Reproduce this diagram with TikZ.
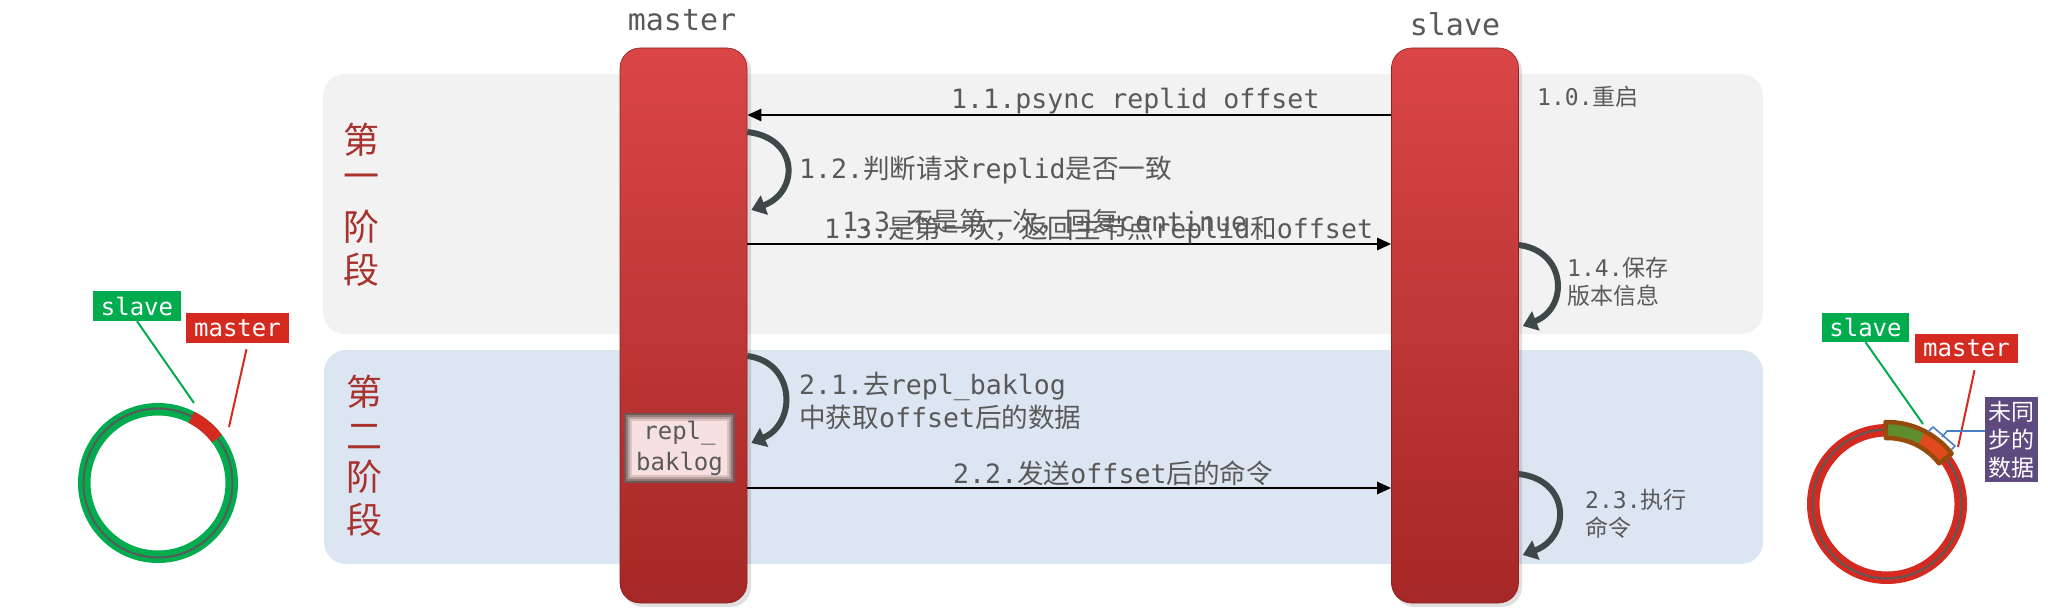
\documentclass[tikz,border=0pt]{standalone}
\usepackage{fontspec}
\setmainfont{DejaVu Sans Mono}
\newfontfamily\cjk{Noto Sans CJK SC}
\usetikzlibrary{arrows.meta,calc}
\definecolor{txtgray}{HTML}{595959}
\definecolor{phasered}{HTML}{A8322D}
\definecolor{panelA}{HTML}{F2F2F2}
\definecolor{panelB}{HTML}{DCE6F2}
\definecolor{bartop}{HTML}{DA4646}
\definecolor{barbot}{HTML}{A62727}
\definecolor{loopgray}{HTML}{3E4848}
\definecolor{ringgreen}{HTML}{00AC4E}
\definecolor{ringred}{HTML}{D42A1F}
\definecolor{ringgray}{HTML}{5A5A5A}
\definecolor{segbrown}{HTML}{964B0C}
\definecolor{segolive}{HTML}{5E8C2E}
\definecolor{segorange}{HTML}{E04A1C}
\definecolor{bracketblue}{HTML}{4A7EC4}
\definecolor{purplebox}{HTML}{5E4A7E}
\definecolor{pinkbox}{HTML}{F6E0E0}
\definecolor{edgeA}{HTML}{6E5858}
\definecolor{edgeB}{HTML}{957A7A}
\definecolor{edgeC}{HTML}{BBA0A0}
\definecolor{edgeD}{HTML}{DCC4C4}
\newcommand\fsz[2]{\fontsize{#1}{#2}\selectfont}
\begin{document}
\begin{tikzpicture}[x=1pt,y=-1pt,
  lbl/.style={inner sep=0pt, anchor=west, text=txtgray, font=\fsz{26.6}{33}, align=left},
  small/.style={lbl, font=\fsz{23}{28}},
  bar/.style={minimum width=127pt, minimum height=555pt, rounded corners=20pt, top color=bartop, bottom color=barbot, draw=barbot!85!black, line width=0.6pt, inner sep=0pt},
  msg/.style={line width=2.5pt, -{Triangle[width=12pt,length=14pt]}},
  selfloop/.style={loopgray, line width=6pt, -{Triangle[width=20pt,length=14pt]}},
  phase/.style={text=phasered, font=\cjk\fsz{36}{43}, inner sep=0pt},
  tag/.style={inner sep=0pt, text=white, font=\fsz{24}{28}},
  softbox/.style={inner sep=0pt, minimum width=#1},
]
\useasboundingbox (0,0) rectangle (2048,615);
% panels
\fill[panelA, rounded corners=22pt] (323,74) rectangle (1763,334);
\fill[panelB, rounded corners=22pt] (324,350) rectangle (1763,564);
% phase labels
\node[phase] (p1a) at (361,140) {第};
\node[phase] (p1b) at (361,182) {一};
\node[phase] (p1c) at (361,227) {阶};
\node[phase] (p1d) at (361,270) {段};
\node[phase] (p2a) at (364,392) {第};
\node[phase] (p2b) at (364,437) {二};
\node[phase] (p2c) at (364,477) {阶};
\node[phase] (p2d) at (364,520) {段};
% bar shadows
\fill[black, opacity=0.12, rounded corners=20pt] (623,51) rectangle (751,607);
\fill[black, opacity=0.12, rounded corners=20pt] (1395,51) rectangle (1522,607);
% bars
\node[bar] (master) at (683.5,325.5) {};
\node[bar] (slave) at (1455,325.5) {};
\node[lbl, anchor=center, font=\fsz{30}{36}] (mlabel) at (682,20) {master};
\node[lbl, anchor=center, font=\fsz{30}{36}] (slabel) at (1455,24) {slave};
% repl_baklog box (soft edges)
\node[fill=edgeA, inner sep=0pt, minimum width=111pt, minimum height=70pt] (rbbox) at (679.5,448) {};
\node[fill=edgeB, inner sep=0pt, minimum width=107pt, minimum height=66pt] (rbb1) at (rbbox.center) {};
\node[fill=edgeC, inner sep=0pt, minimum width=103pt, minimum height=62pt] (rbb2) at (rbbox.center) {};
\node[fill=edgeD, inner sep=0pt, minimum width=99pt, minimum height=58pt] (rbb3) at (rbbox.center) {};
\node[fill=pinkbox, inner sep=0pt, minimum width=95pt, minimum height=54pt] (rbb4) at (rbbox.center) {};
\node[inner sep=0pt, align=center, text=txtgray, font=\fsz{24}{31}] (rb) at (rbbox.center) {repl\_\\baklog};
% messages
\coordinate (y11) at (0,115);
\coordinate (y13) at (0,244);
\coordinate (y22) at (0,488);
\draw[msg] (slave.west |- y11) -- (master.east |- y11);
\draw[msg] (master.east |- y13) -- (slave.west |- y13);
\draw[msg] (master.east |- y22) -- (slave.west |- y22);
% self loops
\coordinate (l12a) at (0,132); \coordinate (l12b) at (0,210);
\coordinate (l14a) at (0,245); \coordinate (l14b) at (0,326);
\coordinate (l21a) at (0,356); \coordinate (l21b) at (0,443);
\coordinate (l23a) at (0,474); \coordinate (l23b) at (0,555);
\draw[selfloop] (master.east |- l12a) .. controls +(52,6) and +(48,-18) .. ($(master.east |- l12b)+(4,0)$);
\draw[selfloop] (slave.east |- l14a) .. controls +(48,6) and +(46,-18) .. ($(slave.east |- l14b)+(4,0)$);
\draw[selfloop] (master.east |- l21a) .. controls +(48,6) and +(46,-20) .. ($(master.east |- l21b)+(4,0)$);
\draw[selfloop] (slave.east |- l23a) .. controls +(52,6) and +(48,-18) .. ($(slave.east |- l23b)+(4,0)$);
% texts
\node[lbl] (t11) at (951,101) {1.1.psync replid offset};
\node[small] (t10) at (1537,97) {1.0.{\cjk 重启}};
\node[lbl] (t12) at (799,170) {1.2.{\cjk 判断请求}replid{\cjk 是否一致}};
\node[lbl] (t13b) at (842,222) {1.3.{\cjk 不是第一次，回复}continue};
\node[lbl] (t13a) at (824,230) {1.3.{\cjk 是第一次，返回主节点}replid{\cjk 和}offset};
\node[small] (t14) at (1567,282) {1.4.{\cjk 保存}\\{\cjk 版本信息}};
\node[lbl] (t21) at (799,401) {2.1.{\cjk 去}repl\_baklog\\{\cjk 中获取}offset{\cjk 后的数据}};
\node[lbl] (t22) at (953,473) {2.2.{\cjk 发送}offset{\cjk 后的命令}};
\node[small] (t23) at (1585,514) {2.3.{\cjk 执行}\\{\cjk 命令}};
% left ring
\coordinate (ringL) at (158,483);
\draw[ringgreen, line width=12.5pt] (ringL) circle[radius=73.75];
\draw[ringgray, line width=2pt] (ringL) circle[radius=74.5];
\draw[ringred, line width=12.5pt] ($(ringL)+(-63:73.75)$) arc[start angle=-63, end angle=-37, radius=73.75];
\node[tag, fill=ringgreen, minimum width=88pt, minimum height=30pt] (lslave) at (137,306) {slave};
\node[tag, fill=ringred, minimum width=103pt, minimum height=30pt] (lmaster) at (237.5,328) {master};
\coordinate (lslaveTip) at (194,403);
\coordinate (lmasterTip) at (229,427);
\draw[ringgreen, line width=2pt] (lslave.south) -- (lslaveTip);
\draw[ringred, line width=2pt] ($(lmaster.south)+(9,6)$) -- (lmasterTip);
% right ring
\coordinate (ringR) at (1887,504);
\draw[ringred, line width=12.5pt] (ringR) circle[radius=73.75];
\draw[ringgray, line width=2pt] (ringR) circle[radius=74.5];
\fill[segolive] ($(ringR)+(-91:82)$) arc[start angle=-91, end angle=-62, radius=82] -- ($(ringR)+(-62:66)$) arc[start angle=-62, end angle=-91, radius=66] -- cycle;
\fill[segorange] ($(ringR)+(-62:82)$) arc[start angle=-62, end angle=-38, radius=82] -- ($(ringR)+(-38:66)$) arc[start angle=-38, end angle=-62, radius=66] -- cycle;
\draw[segbrown, line width=4.5pt, line join=round] ($(ringR)+(-91:82)$) arc[start angle=-91, end angle=-38, radius=82] -- ($(ringR)+(-38:66)$) arc[start angle=-38, end angle=-91, radius=66] -- cycle;
\node[tag, fill=ringgreen, minimum width=87pt, minimum height=29pt] (rslave) at (1865.5,327.5) {slave};
\node[tag, fill=ringred, minimum width=103pt, minimum height=29pt] (rmaster) at (1966.5,348.5) {master};
\node[tag, fill=purplebox, minimum width=53pt, minimum height=85pt, align=center, font=\cjk\fsz{23}{28}] (unsync) at (2011.5,439.5) {未同\\步的\\数据};
\coordinate (rslaveTip) at (1923,424);
\coordinate (rmasterTip) at (1958,447);
\draw[ringgreen, line width=2pt] (rslave.south) -- (rslaveTip);
\draw[ringred, line width=2pt] ($(rmaster.south)+(8,7)$) -- (rmasterTip);
\coordinate (brA) at (1928,432);
\coordinate (brB) at (1933,427);
\coordinate (brC) at (1955,446);
\coordinate (brD) at (1951,450);
\coordinate (brM) at (1942,437);
\coordinate (brN) at (1947,431);
\draw[bracketblue, line width=1.6pt, line join=round] (brA) -- (brB) -- (brC) -- (brD);
\draw[bracketblue, line width=1.6pt, line join=round] (brM) -- (brN) -- (unsync.west |- brN);
\end{tikzpicture}
\end{document}
